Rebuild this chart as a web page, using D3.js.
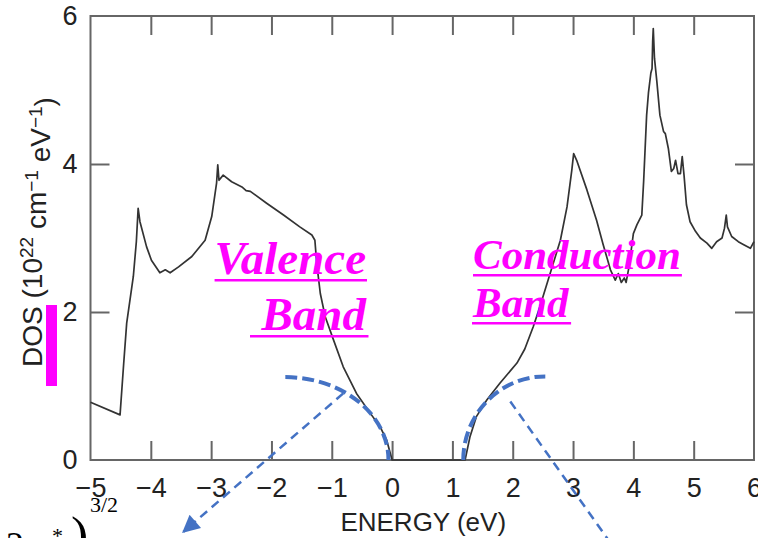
<!DOCTYPE html>
<html>
<head>
<meta charset="utf-8">
<script src="https://cdn.jsdelivr.net/npm/d3@7"></script>
<style>
  html, body { margin: 0; padding: 0; background: #fff; }
  svg { display: block; }
</style>
</head>
<body>
<svg id="chart" width="758" height="538"></svg>
<script>
// Density of states vs energy (eV)
const energy = [
  -5.00, -4.51, -4.45, -4.40, -4.29, -4.24, -4.21, -4.18, -4.07, -3.99,
  -3.85, -3.76, -3.68, -3.54, -3.32, -3.10, -2.99, -2.91, -2.89, -2.87,
  -2.80, -2.66, -2.49, -2.42, -2.35, -2.08, -1.80, -1.53, -1.33, -1.28,
  -1.25, -1.19, -1.11, -0.97, -0.81, -0.59, -0.36, -0.20, -0.09, 0.00,
  1.21, 1.29, 1.40, 1.57, 1.79, 2.07, 2.20, 2.34, 2.45, 2.62,
  2.79, 2.90, 2.98, 3.01, 3.06, 3.23, 3.39, 3.50, 3.62, 3.70,
  3.75, 3.80, 3.85, 3.88, 3.93, 4.00, 4.06, 4.14, 4.17, 4.22,
  4.25, 4.29, 4.31, 4.32, 4.33, 4.35, 4.39, 4.44, 4.50, 4.53,
  4.58, 4.63, 4.67, 4.70, 4.74, 4.78, 4.81, 4.84, 4.88, 4.94,
  5.03, 5.11, 5.22, 5.30, 5.38, 5.47, 5.51, 5.54, 5.56, 5.63,
  5.74, 5.83, 5.94, 6.00
];
const dos = [
  0.78, 0.61, 1.30, 1.85, 2.48, 2.95, 3.40, 3.22, 2.88, 2.70,
  2.53, 2.57, 2.53, 2.61, 2.75, 2.97, 3.29, 3.74, 3.99, 3.78,
  3.85, 3.76, 3.69, 3.64, 3.63, 3.47, 3.31, 3.15, 3.04, 2.97,
  2.66, 2.25, 1.94, 1.62, 1.26, 0.90, 0.63, 0.45, 0.27, 0.00,
  0.00, 0.31, 0.59, 0.81, 1.04, 1.31, 1.50, 1.80, 2.07, 2.52,
  2.97, 3.42, 3.92, 4.14, 4.05, 3.65, 3.24, 2.91, 2.57, 2.43,
  2.52, 2.40, 2.46, 2.40, 2.62, 3.06, 3.18, 3.31, 3.76, 4.66,
  4.96, 5.23, 5.29, 5.65, 5.83, 5.43, 5.11, 4.66, 4.44, 4.41,
  4.21, 3.90, 3.94, 4.05, 3.87, 3.87, 4.10, 3.85, 3.45, 3.22,
  3.09, 3.00, 2.93, 2.86, 2.95, 3.00, 3.13, 3.31, 3.15, 3.02,
  2.95, 2.91, 2.86, 2.95
];

const xTicks = [-5, -4, -3, -2, -1, 0, 1, 2, 3, 4, 5, 6];
const yTicks = [0, 2, 4, 6];

// Parabolic band-edge guides: [edge energy, far energy, height]
const valenceEdge = [-0.06, -1.77, 1.12];
const conductionEdge = [1.18, 2.54, 1.13];
// Dashed pointer lines: [E0, D0, E1, D1]
const valencePointer = [-0.81, 0.90, -3.46, -0.97];
const conductionPointer = [1.96, 0.79, 3.95, -1.50];

const svg = d3.select("#chart");
const plotLeft = 90.5, plotRight = 754, plotTop = 16, plotBottom = 460;

const x = d3.scaleLinear().domain([-5, 6]).range([plotLeft, plotRight]);
const y = d3.scaleLinear().domain([0, 6]).range([plotBottom, plotTop]);

const axisColor = "#666";
const fontSans = "'Liberation Sans', Arial, Helvetica, sans-serif";
const intFmt = d3.format("d");

// Frame
svg.append("rect")
  .attr("x", plotLeft).attr("y", plotTop)
  .attr("width", plotRight - plotLeft).attr("height", plotBottom - plotTop)
  .attr("fill", "none").attr("stroke", axisColor).attr("stroke-width", 2);

function styleAxis(g, labels) {
  g.select(".domain").remove();
  g.selectAll(".tick line").attr("stroke", axisColor).attr("stroke-width", 2);
  g.selectAll(".tick text")
    .attr("fill", "#222")
    .style("font-family", fontSans)
    .style("font-size", "27px");
  if (!labels) g.selectAll(".tick text").remove();
}

const innerX = xTicks.slice(1, -1);
const innerY = yTicks.slice(1, -1);

svg.append("g")
  .attr("transform", `translate(0,${plotBottom})`)
  .call(d3.axisBottom(x).tickValues(xTicks).tickFormat(intFmt).tickSize(0).tickPadding(18))
  .call(g => styleAxis(g, true));
svg.append("g")
  .attr("transform", `translate(0,${plotBottom})`)
  .call(d3.axisBottom(x).tickValues(innerX).tickSize(-19).tickFormat(""))
  .call(g => styleAxis(g, false));
svg.append("g")
  .attr("transform", `translate(0,${plotTop})`)
  .call(d3.axisTop(x).tickValues(innerX).tickSize(-19).tickFormat(""))
  .call(g => styleAxis(g, false));
svg.append("g")
  .attr("transform", `translate(${plotLeft},0)`)
  .call(d3.axisLeft(y).tickValues(yTicks).tickFormat(intFmt).tickSize(0).tickPadding(13))
  .call(g => styleAxis(g, true));
svg.append("g")
  .attr("transform", `translate(${plotLeft},0)`)
  .call(d3.axisLeft(y).tickValues(innerY).tickSize(-19).tickFormat(""))
  .call(g => styleAxis(g, false));
svg.append("g")
  .attr("transform", `translate(${plotRight},0)`)
  .call(d3.axisRight(y).tickValues(innerY).tickSize(-19).tickFormat(""))
  .call(g => styleAxis(g, false));

// Axis titles
svg.append("text")
  .attr("x", (plotLeft + plotRight) / 2 + 1).attr("y", 531)
  .attr("text-anchor", "middle")
  .attr("fill", "#222")
  .style("font-family", fontSans).style("font-size", "26px")
  .text("ENERGY (eV)");

const yTitle = svg.append("text")
  .attr("transform", "translate(42,232) rotate(-90)")
  .attr("text-anchor", "middle")
  .attr("fill", "#222")
  .style("font-family", fontSans).style("font-size", "28px");
yTitle.append("tspan").text("DOS (10");
yTitle.append("tspan").attr("dy", "-0.45em").style("font-size", "19px").text("22");
yTitle.append("tspan").attr("dy", "0.45em").text(" cm");
yTitle.append("tspan").attr("dy", "-0.45em").style("font-size", "19px").text("\u22121");
yTitle.append("tspan").attr("dy", "0.45em").text(" eV");
yTitle.append("tspan").attr("dy", "-0.45em").style("font-size", "19px").text("\u22121");
yTitle.append("tspan").attr("dy", "0.45em").text(")");

// Highlight bar beside the axis title
svg.append("rect")
  .attr("x", 46).attr("y", 305).attr("width", 11).attr("height", 81)
  .attr("fill", "#ff00ff");

// DOS curve
const pts = energy.map((e, i) => [e, dos[i]]);
svg.append("path")
  .datum(pts)
  .attr("fill", "none")
  .attr("stroke", "#333")
  .attr("stroke-width", 1.7)
  .attr("stroke-linejoin", "round")
  .attr("d", d3.line().x(d => x(d[0])).y(d => y(d[1])));

// Band edge guides (quarter ellipses)
const blue = "#4472c4";
function edgeArc([edge, far, h], fromEdge) {
  const rx = Math.abs(x(edge) - x(far));
  const ry = y(0) - y(h);
  if (fromEdge) {
    return `M${x(edge)},${y(0)} A${rx},${ry} 0 0 1 ${x(far)},${y(h)}`;
  }
  return `M${x(far)},${y(h)} A${rx},${ry} 0 0 1 ${x(edge)},${y(0)}`;
}
svg.append("path")
  .attr("d", edgeArc(valenceEdge, false))
  .attr("fill", "none").attr("stroke", blue)
  .attr("stroke-width", 4).attr("stroke-dasharray", "12 5");
svg.append("path")
  .attr("d", edgeArc(conductionEdge, true))
  .attr("fill", "none").attr("stroke", blue)
  .attr("stroke-width", 4).attr("stroke-dasharray", "12 5");

// Pointer lines
svg.append("defs").append("marker")
  .attr("id", "head")
  .attr("viewBox", "0 0 10 10")
  .attr("refX", 9).attr("refY", 5)
  .attr("markerWidth", 8).attr("markerHeight", 7)
  .attr("markerUnits", "strokeWidth")
  .attr("orient", "auto")
  .append("path").attr("d", "M0,0 L10,5 L0,10 Z").attr("fill", blue);

function pointer([e0, d0, e1, d1], arrow) {
  const p = svg.append("line")
    .attr("x1", x(e0)).attr("y1", y(d0))
    .attr("x2", x(e1)).attr("y2", y(d1))
    .attr("stroke", blue).attr("stroke-width", 2.5)
    .attr("stroke-dasharray", "9 6");
  if (arrow) p.attr("marker-end", "url(#head)");
}
pointer(valencePointer, true);
pointer(conductionPointer, false);

// Band labels
const fontSerif = "'Liberation Serif', 'Times New Roman', serif";
function bandLabel(text, xPos, yPos, anchor, size, ulFrom) {
  const t = svg.append("text")
    .attr("x", xPos).attr("y", yPos)
    .attr("text-anchor", anchor)
    .attr("fill", "#ff00ff")
    .style("font-family", fontSerif)
    .style("font-size", size + "px")
    .style("font-weight", "bold")
    .style("font-style", "italic")
    .text(text);
  const bb = t.node().getBBox();
  const x0 = ulFrom != null ? ulFrom : bb.x;
  svg.append("rect")
    .attr("x", x0).attr("y", yPos + 5)
    .attr("width", bb.x + bb.width - x0 + 1).attr("height", 2.5)
    .attr("fill", "#ff00ff");
}
bandLabel("Valence", 366, 274, "end", 47);
bandLabel("Band", 366, 330, "end", 47, 250);
bandLabel("Conduction", 473, 269, "start", 43);
bandLabel("Band", 473, 317, "start", 43);

// Formula fragment at the lower left
const formula = svg.append("g")
  .attr("fill", "#000")
  .style("font-family", fontSerif);
formula.append("text").attr("x", 6).attr("y", 557).style("font-size", "36px").text("2m");
formula.append("text").attr("x", 52).attr("y", 543).style("font-size", "22px").text("*");
formula.append("text").attr("x", 71).attr("y", 553).style("font-size", "52px").text(")");
formula.append("text").attr("x", 90).attr("y", 512).style("font-size", "22px").text("3/2");
</script>
</body>
</html>
